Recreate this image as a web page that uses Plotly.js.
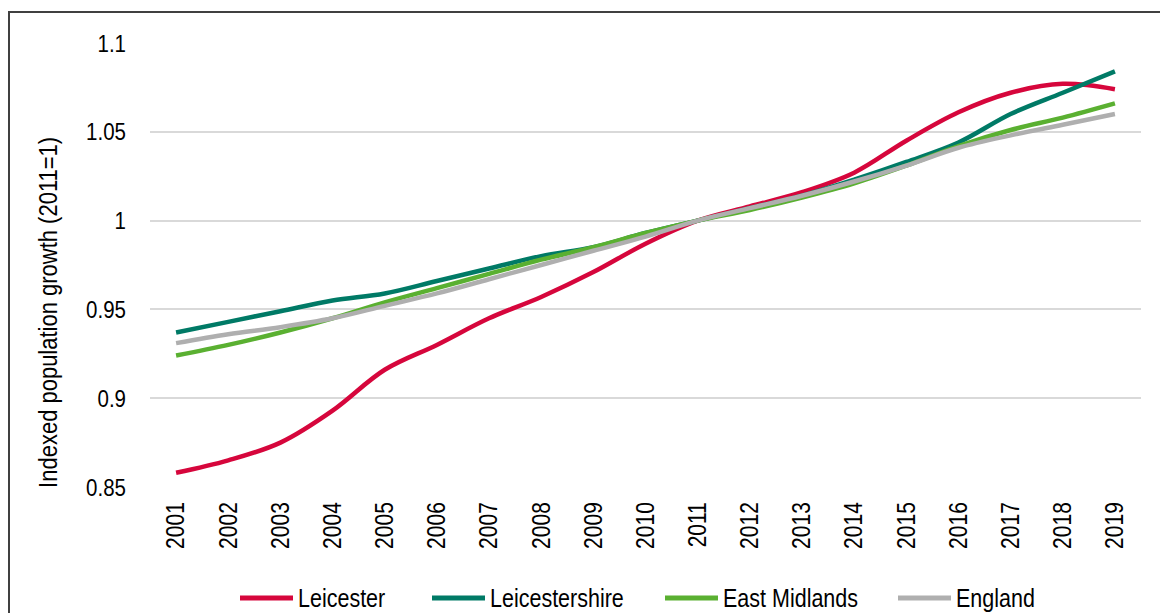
<!DOCTYPE html>
<html>
<head>
<meta charset="utf-8">
<script src="https://cdn.plot.ly/plotly-3.0.1.min.js"></script>
<style>
html,body{margin:0;padding:0;background:#fff;}
#chart{width:1160px;height:613px;}
</style>
</head>
<body>
<div id="chart"></div>
<script>
const years = ["2001","2002","2003","2004","2005","2006","2007","2008","2009","2010","2011","2012","2013","2014","2015","2016","2017","2018","2019"];
const leicester      = [0.858,0.865,0.875,0.893,0.916,0.930,0.945,0.957,0.971,0.987,1.000,1.008,1.016,1.027,1.045,1.061,1.072,1.077,1.074];
const leicestershire = [0.937,0.943,0.949,0.955,0.959,0.966,0.973,0.980,0.985,0.993,1.000,1.007,1.014,1.023,1.033,1.044,1.060,1.072,1.084];
const eastMidlands   = [0.924,0.930,0.937,0.945,0.954,0.962,0.970,0.978,0.985,0.993,1.000,1.006,1.013,1.021,1.031,1.042,1.051,1.058,1.066];
const england        = [0.931,0.936,0.940,0.945,0.952,0.959,0.967,0.975,0.983,0.991,1.000,1.007,1.014,1.022,1.031,1.041,1.048,1.054,1.060];
const seriesNames = ["Leicester","Leicestershire","East Midlands","England"];
const yTicks = [0.85,0.9,0.95,1,1.05,1.1];
const yTickText = ["0.85","0.9","0.95","1","1.05","1.1"];
const yTitle = "Indexed population growth (2011=1)";

const colors = ["#d6063c","#007a66","#5ab031","#afafaf"];
const data = [leicester, leicestershire, eastMidlands, england].map((v,i)=>({
  x: years, y: v, name: seriesNames[i], type: "scatter", mode: "lines",
  line: {color: colors[i], width: 4.5, shape: "spline", smoothing: 1}
}));

const FAM = "Liberation Sans, Arial, sans-serif";
const W = 1160, H = 613, L = 150, R = 19, T = 43, B = 126;
const pw = W - L - R, ph = H - T - B;
const px2x = p => (p - L) / pw;
const px2y = p => (H - B - p) / ph;

// custom legend (line sample + label)
const legendLines = [[240,293],[432,485],[665,718],[898,951]];
const legendY = 598;
const shapes = [{
  type: "rect", xref: "paper", yref: "paper",
  x0: px2x(9), x1: 1.2, y0: -0.5, y1: px2y(12),
  line: {color: "#404040", width: 2}, fillcolor: "rgba(0,0,0,0)", layer: "below"
}];
const annotations = [{
  text: yTitle, xref: "paper", yref: "paper",
  x: px2x(48), y: px2y(313), xanchor: "center", yanchor: "middle",
  textangle: -90, showarrow: false, font: {family: FAM, size: 22, color: "#000"}
}];
seriesNames.forEach((n,i)=>{
  const [a,b] = legendLines[i];
  shapes.push({type:"line", xref:"paper", yref:"paper", x0:px2x(a), x1:px2x(b), y0:px2y(legendY), y1:px2y(legendY),
    line:{color: colors[i], width: 5}});
  annotations.push({text: n, xref:"paper", yref:"paper", x: px2x(b+3), y: px2y(legendY+1),
    xanchor:"left", yanchor:"middle", showarrow:false, font:{family: FAM, size: 21.5, color:"#000"}});
});

const layout = {
  width: W, height: H,
  margin: {l: L, r: R, t: T, b: B},
  paper_bgcolor: "#fff", plot_bgcolor: "#fff",
  font: {family: FAM, size: 21, color: "#000"},
  showlegend: false,
  xaxis: {type: "category", range: [-0.5, 18.5], tickangle: -90, showgrid: false, zeroline: false, showline: false,
          ticks: "", ticklabelstandoff: 10, automargin: false,
          tickfont: {family: FAM, size: 21, color: "#000"}, fixedrange: true},
  yaxis: {range: [0.85, 1.1], tickvals: yTicks, ticktext: yTickText, showgrid: true, gridcolor: "#d9d9d9", gridwidth: 2,
          zeroline: false, showline: false, ticks: "", ticklabelstandoff: 23, automargin: false,
          tickfont: {family: FAM, size: 20.5, color: "#000"}, fixedrange: true},
  annotations: annotations,
  shapes: shapes
};

// stretch glyphs along the text's own vertical axis (in the parent's coordinate frame)
function stretch(el, sx, sy) {
  const svg = el.ownerSVGElement;
  const parent = el.parentNode;
  const r = el.getBoundingClientRect();
  if (!r.width) return;
  const pm = parent.getScreenCTM().inverse();
  const pt = svg.createSVGPoint();
  pt.x = r.left + r.width/2; pt.y = r.top + r.height/2;
  const c = pt.matrixTransform(pm);
  const g = document.createElementNS("http://www.w3.org/2000/svg", "g");
  g.setAttribute("transform", `translate(${c.x},${c.y}) scale(${sx},${sy}) translate(${-c.x},${-c.y})`);
  parent.insertBefore(g, el);
  g.appendChild(el);
}

Plotly.newPlot("chart", data, layout, {displayModeBar: false, staticPlot: true}).then(gd=>{
  const k = 1.2;
  gd.querySelectorAll(".xtick text").forEach(t=>stretch(t, k, 1));
  gd.querySelectorAll(".ytick text").forEach(t=>stretch(t, 1, k));
  gd.querySelectorAll(".annotation-text").forEach(t=>stretch(t, 1, k));
});
</script>
</body>
</html>
